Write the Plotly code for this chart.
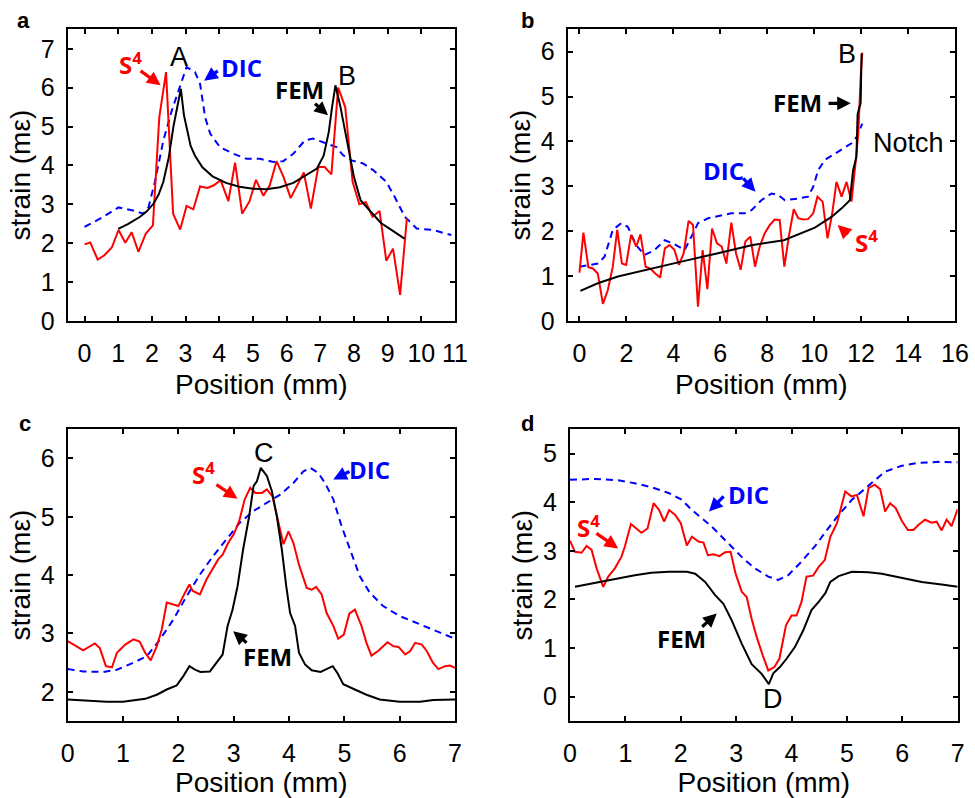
import plotly.graph_objects as go

# ---------------- Panel a ----------------
a_s4_x = [0, 0.17, 0.39, 0.59, 0.81, 1.01, 1.21, 1.40, 1.60, 1.82, 2.03, 2.22, 2.42, 2.63, 2.84, 3.03, 3.23,
          3.43, 3.65, 3.84, 4.04, 4.27, 4.47, 4.68, 4.90, 5.09, 5.31, 5.50, 5.70, 5.91, 6.12, 6.31, 6.51, 6.72,
          6.94, 7.13, 7.33, 7.53, 7.74, 7.96, 8.16, 8.35, 8.55, 8.76, 8.96, 9.16, 9.37, 9.57]
a_s4_y = [1.97, 2.02, 1.58, 1.69, 1.89, 2.34, 2.01, 2.28, 1.78, 2.25, 2.46, 5.24, 6.40, 2.76, 2.35, 2.96, 2.87,
          3.46, 3.42, 3.49, 3.62, 3.08, 4.07, 2.76, 3.08, 3.63, 3.22, 3.49, 4.11, 3.70, 3.16, 3.49, 3.82, 2.89,
          3.96, 3.96, 3.77, 6.00, 5.50, 3.58, 3.00, 3.06, 2.68, 2.83, 1.55, 1.86, 0.67, 2.63]
a_fem_x = [1.0, 1.3, 1.65, 1.85, 2.05, 2.2, 2.34, 2.5, 2.64, 2.76, 2.86, 2.95, 3.05, 3.15, 3.28, 3.5, 3.8, 4.2,
           4.6, 5.0, 5.4, 5.8, 6.2, 6.6, 6.9, 7.1, 7.25, 7.35, 7.45, 7.6, 7.8, 8.0, 8.2, 8.5, 8.8, 9.1, 9.5]
a_fem_y = [2.37, 2.50, 2.68, 2.82, 3.02, 3.25, 3.58, 4.2, 5.0, 5.5, 5.97, 5.3, 4.85, 4.5, 4.25, 3.95, 3.72, 3.55,
           3.45, 3.40, 3.39, 3.44, 3.55, 3.75, 3.92, 4.25, 4.85, 5.5, 6.06, 5.5, 4.6, 3.7, 3.1, 2.8, 2.52, 2.35, 2.12]
a_dic_x = [0, 0.46, 1.01, 1.4, 1.75, 1.9, 2.09, 2.34, 2.59, 2.84, 3.03, 3.28, 3.43, 3.58, 3.73, 4.02, 4.42,
           4.81, 5.21, 5.6, 5.9, 6.2, 6.54, 6.79, 7.18, 7.48, 7.68, 7.93, 8.27, 8.57, 8.96, 9.21, 9.51, 9.86,
           10.35, 10.89]
a_dic_y = [2.42, 2.63, 2.92, 2.85, 2.76, 2.93, 3.58, 4.64, 5.41, 6.06, 6.53, 6.40, 6.1, 5.24, 4.82, 4.47, 4.30,
           4.17, 4.17, 4.09, 4.11, 4.30, 4.64, 4.69, 4.56, 4.47, 4.26, 4.13, 4.05, 3.88, 3.58, 3.19, 2.68, 2.38,
           2.34, 2.21]

# ---------------- Panel b ----------------
b_s4_x = [0, 0.17, 0.38, 0.57, 0.78, 1.0, 1.21, 1.42, 1.61, 1.81, 1.99, 2.2, 2.42, 2.6, 2.82, 3.02, 3.23, 3.44,
          3.64, 3.84, 4.05, 4.24, 4.44, 4.65, 4.84, 5.05, 5.25, 5.45, 5.65, 5.86, 6.06, 6.26, 6.47, 6.67, 6.87,
          7.07, 7.28, 7.48, 7.68, 7.89, 8.11, 8.32, 8.53, 8.73, 8.92, 9.13, 9.32, 9.53, 9.74, 9.96, 10.14, 10.36,
          10.57, 10.77, 10.95, 11.17, 11.38, 11.59, 11.76, 11.88, 11.99, 12.05]
b_s4_y = [1.08, 1.97, 1.20, 1.17, 1.06, 0.38, 0.69, 1.21, 2.03, 1.28, 1.25, 1.92, 1.66, 1.93, 1.21, 1.17, 1.06,
          0.97, 1.62, 1.69, 1.58, 1.25, 1.51, 2.23, 2.14, 0.32, 1.58, 0.71, 2.06, 1.73, 1.66, 1.28, 2.19, 1.51,
          1.14, 1.77, 1.88, 1.21, 1.66, 1.95, 2.14, 2.26, 2.25, 1.21, 1.88, 2.49, 2.29, 2.26, 2.27, 2.40, 2.77,
          2.66, 1.84, 2.40, 3.10, 2.77, 3.10, 2.66, 3.51, 4.18, 5.52, 5.98]
b_fem_x = [0.04, 0.78, 1.64, 3.06, 4.48, 5.9, 7.33, 8.71, 9.46, 10.03, 10.74, 11.17, 11.52, 11.66, 11.8, 11.85,
           11.92, 11.98, 12.02]
b_fem_y = [0.67, 0.84, 0.99, 1.17, 1.34, 1.51, 1.69, 1.80, 1.95, 2.08, 2.32, 2.51, 2.69, 3.36, 3.66, 4.6, 4.75,
           4.85, 5.96]
b_dic_x = [0, 0.36, 0.78, 1.07, 1.42, 1.78, 2.06, 2.42, 2.77, 3.2, 3.63, 3.98, 4.48, 4.84, 5.05, 5.48, 5.9,
           6.47, 7.04, 7.33, 7.75, 8.18, 8.46, 8.75, 9.32, 9.74, 9.96, 10.17, 10.46, 10.88, 11.31, 11.59, 11.81,
           12.05]
b_dic_y = [1.21, 1.25, 1.28, 1.43, 2.03, 2.18, 2.10, 1.69, 1.47, 1.58, 1.80, 1.73, 1.58, 1.95, 2.18, 2.29, 2.34,
           2.40, 2.40, 2.47, 2.69, 2.84, 2.81, 2.69, 2.73, 2.77, 2.99, 3.36, 3.59, 3.73, 3.88, 3.96, 4.10, 4.40]

# ---------------- Panel c ----------------
c_s4_x = [0, 0.28, 0.49, 0.58, 0.69, 0.8, 0.89, 1.04, 1.19, 1.30, 1.40, 1.5, 1.61, 1.7, 1.79, 1.91, 2.0, 2.12,
          2.2, 2.26, 2.39, 2.51, 2.63, 2.72, 2.8, 2.9, 3.0, 3.1, 3.2, 3.3, 3.39, 3.51, 3.6, 3.7, 3.81, 3.9, 3.99,
          4.08, 4.18, 4.26, 4.32, 4.41, 4.49, 4.59, 4.68, 4.8, 4.89, 4.99, 5.09, 5.19, 5.31, 5.4, 5.49, 5.61,
          5.78, 5.89, 5.98, 6.1, 6.19, 6.28, 6.4, 6.49, 6.6, 6.7, 6.82, 6.91, 7.0]
c_s4_y = [2.87, 2.71, 2.83, 2.75, 2.44, 2.42, 2.67, 2.81, 2.90, 2.86, 2.67, 2.54, 2.78, 3.07, 3.53, 3.50, 3.47,
          3.70, 3.84, 3.73, 3.67, 3.93, 4.13, 4.27, 4.35, 4.55, 4.70, 4.93, 5.30, 5.50, 5.41, 5.41, 5.47, 5.35,
          4.90, 4.53, 4.75, 4.55, 4.18, 3.93, 3.78, 3.75, 3.80, 3.67, 3.35, 3.13, 2.91, 2.98, 3.34, 3.41, 3.13,
          2.84, 2.62, 2.70, 2.85, 2.78, 2.77, 2.64, 2.70, 2.84, 2.81, 2.70, 2.50, 2.39, 2.44, 2.45, 2.41]
c_fem_x = [0, 0.34, 0.7, 1.0, 1.19, 1.4, 1.61, 1.79, 1.97, 2.09, 2.2, 2.3, 2.4, 2.57, 2.69, 2.8, 2.89, 2.98,
           3.07, 3.17, 3.28, 3.36, 3.42, 3.49, 3.6, 3.69, 3.78, 3.87, 3.95, 4.02, 4.11, 4.18, 4.29, 4.41, 4.57,
           4.68, 4.79, 4.87, 4.98, 5.19, 5.4, 5.64, 6.0, 6.37, 6.61, 7.0]
c_fem_y = [1.87, 1.85, 1.83, 1.83, 1.85, 1.88, 1.95, 2.04, 2.11, 2.27, 2.44, 2.38, 2.34, 2.35, 2.50, 2.64, 3.13,
           3.41, 3.81, 4.44, 5.01, 5.53, 5.61, 5.84, 5.70, 5.44, 5.01, 4.44, 3.81, 3.35, 3.13, 2.67, 2.47, 2.37,
           2.34, 2.39, 2.44, 2.33, 2.13, 2.04, 1.95, 1.87, 1.83, 1.83, 1.86, 1.87]
c_dic_x = [0, 0.28, 0.64, 0.89, 1.19, 1.43, 1.67, 1.91, 2.15, 2.39, 2.63, 2.87, 3.11, 3.36, 3.6, 3.84, 4.08,
           4.26, 4.38, 4.53, 4.65, 4.8, 4.95, 5.1, 5.28, 5.46, 5.7, 6.0, 6.31, 6.61, 7.0]
c_dic_y = [2.39, 2.35, 2.34, 2.38, 2.50, 2.61, 2.90, 3.24, 3.64, 4.01, 4.33, 4.61, 4.90, 5.10, 5.24, 5.38, 5.58,
           5.78, 5.84, 5.75, 5.58, 5.30, 4.84, 4.44, 3.98, 3.70, 3.47, 3.30, 3.18, 3.07, 2.91]

# ---------------- Panel d ----------------
d_s4_x = [0, 0.09, 0.21, 0.3, 0.39, 0.48, 0.6, 0.69, 0.81, 0.93, 0.99, 1.1, 1.29, 1.4, 1.51, 1.61, 1.7, 1.79,
          1.9, 2.0, 2.11, 2.2, 2.32, 2.41, 2.49, 2.59, 2.7, 2.8, 2.9, 2.99, 3.1, 3.19, 3.28, 3.37, 3.48, 3.58,
          3.69, 3.78, 3.9, 4.0, 4.09, 4.18, 4.27, 4.39, 4.49, 4.6, 4.7, 4.82, 4.97, 5.08, 5.18, 5.3, 5.39, 5.5,
          5.6, 5.69, 5.78, 5.88, 5.99, 6.1, 6.2, 6.29, 6.41, 6.53, 6.62, 6.71, 6.8, 6.89, 7.0]
d_s4_y = [3.21, 2.98, 2.96, 3.10, 3.02, 2.64, 2.26, 2.47, 2.64, 2.88, 3.09, 3.55, 3.37, 3.46, 3.98, 3.84, 3.60,
          3.84, 3.74, 3.57, 3.11, 3.29, 3.19, 3.17, 2.91, 2.93, 2.89, 2.97, 2.98, 2.53, 2.16, 2.05, 1.60, 1.23,
          0.85, 0.54, 0.61, 0.78, 1.47, 1.67, 1.67, 1.95, 2.47, 2.49, 2.67, 2.81, 3.29, 3.57, 4.22, 4.12, 4.15,
          3.71, 4.29, 4.36, 4.27, 3.81, 3.98, 3.88, 3.62, 3.43, 3.43, 3.53, 3.64, 3.58, 3.60, 3.42, 3.64, 3.51,
          3.86]
d_fem_x = [0.09, 0.45, 0.87, 1.17, 1.47, 1.78, 2.11, 2.26, 2.44, 2.62, 2.77, 2.92, 3.1, 3.28, 3.46, 3.59, 3.67,
           3.79, 3.91, 4.06, 4.21, 4.36, 4.49, 4.61, 4.7, 4.85, 5.09, 5.39, 5.63, 5.87, 6.11, 6.35, 6.71, 7.0]
d_fem_y = [2.26, 2.34, 2.43, 2.50, 2.55, 2.57, 2.57, 2.53, 2.36, 2.09, 1.91, 1.57, 1.09, 0.67, 0.47, 0.26, 0.48,
           0.61, 0.78, 1.02, 1.36, 1.78, 1.95, 2.13, 2.36, 2.48, 2.57, 2.56, 2.53, 2.47, 2.42, 2.36, 2.31, 2.26]
d_dic_x = [0, 0.45, 0.87, 1.17, 1.47, 1.78, 2.02, 2.2, 2.38, 2.56, 2.74, 2.95, 3.13, 3.34, 3.58, 3.76, 3.94,
           4.18, 4.42, 4.64, 4.85, 5.09, 5.33, 5.51, 5.69, 5.99, 6.29, 6.65, 7.0]
d_dic_y = [4.46, 4.48, 4.45, 4.39, 4.31, 4.19, 4.05, 3.84, 3.67, 3.50, 3.29, 3.05, 2.84, 2.64, 2.47, 2.40, 2.50,
           2.78, 3.09, 3.43, 3.74, 4.05, 4.29, 4.46, 4.63, 4.75, 4.81, 4.83, 4.82]

# axis settings per panel
x_ranges = [[-0.5, 11], [-0.5, 16], [0, 7], [0, 7]]
y_ranges = [[0, 7.5], [0, 6.5], [1.5, 6.5], [-0.5, 5.5]]
x_ticks = [list(range(0, 12)), list(range(0, 17, 2)), list(range(0, 8)), list(range(0, 8))]
y_ticks = [list(range(0, 8)), list(range(0, 7)), list(range(2, 7)), list(range(0, 6))]
panel_letters = ["a", "b", "c", "d"]

W, H = 975, 798
boxes = [(67.7, 455, 29.3, 321), (567.7, 955, 29.3, 321), (67.7, 455, 429.3, 721), (570, 957.7, 429.3, 721)]
x_title_standoff = [8, 8, 13, 13]

RED, BLUE, BLACK = "#ff0000", "#0000ff", "#000000"
SANS = "Liberation Sans, Arial"
TICKFONT = dict(family=SANS, size=25, color="black")
TITLEFONT = dict(family=SANS, size=28, color="black")
BOLDFONT = "Open Sans, Liberation Sans, Arial"

fig = go.Figure()

series = [
    (a_s4_x, a_s4_y, a_dic_x, a_dic_y, a_fem_x, a_fem_y),
    (b_s4_x, b_s4_y, b_dic_x, b_dic_y, b_fem_x, b_fem_y),
    (c_s4_x, c_s4_y, c_dic_x, c_dic_y, c_fem_x, c_fem_y),
    (d_s4_x, d_s4_y, d_dic_x, d_dic_y, d_fem_x, d_fem_y),
]

for i, (sx, sy, dx, dy, fx, fy) in enumerate(series):
    xa = "x" if i == 0 else f"x{i+1}"
    ya = "y" if i == 0 else f"y{i+1}"
    fig.add_trace(go.Scatter(x=dx, y=dy, mode="lines", line=dict(color=BLUE, width=2, dash="7px,5px"),
                             xaxis=xa, yaxis=ya, showlegend=False))
    fig.add_trace(go.Scatter(x=sx, y=sy, mode="lines", line=dict(color=RED, width=2),
                             xaxis=xa, yaxis=ya, showlegend=False))
    fig.add_trace(go.Scatter(x=fx, y=fy, mode="lines", line=dict(color=BLACK, width=2),
                             xaxis=xa, yaxis=ya, showlegend=False))

layout = {}
for i, (l, r, t, b) in enumerate(boxes):
    xk = "xaxis" if i == 0 else f"xaxis{i+1}"
    yk = "yaxis" if i == 0 else f"yaxis{i+1}"
    xa = "x" if i == 0 else f"x{i+1}"
    ya = "y" if i == 0 else f"y{i+1}"
    layout[xk] = dict(domain=[l / W, r / W], range=x_ranges[i], anchor=ya, tickvals=x_ticks[i],
                      ticks="inside", ticklen=5, tickwidth=1.5, tickcolor="black", showline=True,
                      linecolor="black", linewidth=2, mirror="ticks", showgrid=False, zeroline=False,
                      automargin=False, tickfont=TICKFONT, ticklabelstandoff=9,
                      title=dict(text="Position (mm)", font=TITLEFONT, standoff=x_title_standoff[i]))
    layout[yk] = dict(domain=[1 - b / H, 1 - t / H], range=y_ranges[i], anchor=xa, tickvals=y_ticks[i],
                      ticks="inside", ticklen=5, tickwidth=1.5, tickcolor="black", showline=True,
                      linecolor="black", linewidth=2, mirror="ticks", showgrid=False, zeroline=False,
                      automargin=False, tickfont=TICKFONT, ticklabelstandoff=6,
                      title=dict(text="strain (mε)", font=TITLEFONT, standoff=2))

fig.update_layout(template="none", width=W, height=H, margin=dict(l=0, r=0, t=0, b=0),
                  plot_bgcolor="white", paper_bgcolor="white", showlegend=False, **layout)

# panel letters
letter_pos = [(23, 21), (527, 21), (25, 423), (527, 423)]
for letter, (px, py) in zip(panel_letters, letter_pos):
    fig.add_annotation(x=px / W, y=1 - py / H, xref="paper", yref="paper", text=f"<b>{letter}</b>",
                       xanchor="center", yanchor="middle", showarrow=False,
                       font=dict(family=SANS, size=22, color="black"))

def label(i, x, y, text, color, bold=True, size=24):
    xa = "x" if i == 0 else f"x{i+1}"
    ya = "y" if i == 0 else f"y{i+1}"
    t = f"<b>{text}</b>" if bold else text
    fam = BOLDFONT if bold else SANS
    fig.add_annotation(x=x, y=y, xref=xa, yref=ya, text=t, showarrow=False, xanchor="center",
                       yanchor="middle", font=dict(family=fam, size=size, color=color))

def arrow(i, x0, y0, x1, y1, color):
    xa = "x" if i == 0 else f"x{i+1}"
    ya = "y" if i == 0 else f"y{i+1}"
    fig.add_annotation(x=x1, y=y1, ax=x0, ay=y0, xref=xa, yref=ya, axref=xa, ayref=ya, text="",
                       showarrow=True, arrowhead=2, arrowsize=0.85, arrowwidth=3.2, arrowcolor=color)

S4 = "S<sup>4</sup>"
# panel a
label(0, 2.79, 6.78, "A", BLACK, bold=False, size=27)
label(0, 7.78, 6.31, "B", BLACK, bold=False, size=27)
label(0, 1.35, 6.61, S4, RED)
arrow(0, 1.62, 6.46, 2.26, 6.06, RED)
label(0, 4.66, 6.53, "DIC", BLUE)
arrow(0, 4.0, 6.46, 3.55, 6.18, BLUE)
label(0, 6.37, 5.95, "FEM", BLACK)
arrow(0, 6.80, 5.62, 7.23, 5.29, BLACK)
# panel b
label(1, 11.38, 5.96, "B", BLACK, bold=False, size=27)
label(1, 9.29, 4.88, "FEM", BLACK)
arrow(1, 10.55, 4.85, 11.56, 4.85, BLACK)
label(1, 14.04, 3.96, "Notch", BLACK, bold=False, size=27)
label(1, 6.12, 3.36, "DIC", BLUE)
arrow(1, 6.92, 3.21, 7.5, 2.88, BLUE)
label(1, 12.23, 1.77, S4, RED)
arrow(1, 11.5, 1.90, 11.0, 2.14, RED)
# panel c
label(2, 3.54, 6.10, "C", BLACK, bold=False, size=27)
label(2, 2.46, 5.75, S4, RED)
arrow(2, 2.66, 5.57, 3.07, 5.31, RED)
label(2, 5.46, 5.81, "DIC", BLUE)
arrow(2, 5.12, 5.79, 4.80, 5.64, BLUE)
label(2, 3.61, 2.61, "FEM", BLACK)
arrow(2, 3.26, 2.82, 2.99, 3.04, BLACK)
# panel d
label(3, 3.67, -0.05, "D", BLACK, bold=False, size=27)
label(3, 3.22, 4.15, "DIC", BLUE)
arrow(3, 2.80, 4.15, 2.51, 3.81, BLUE)
label(3, 0.33, 3.50, S4, RED)
arrow(3, 0.45, 3.38, 0.87, 3.05, RED)
label(3, 2.02, 1.19, "FEM", BLACK)
arrow(3, 2.36, 1.41, 2.65, 1.71, BLACK)

fig.write_html("out.html")
